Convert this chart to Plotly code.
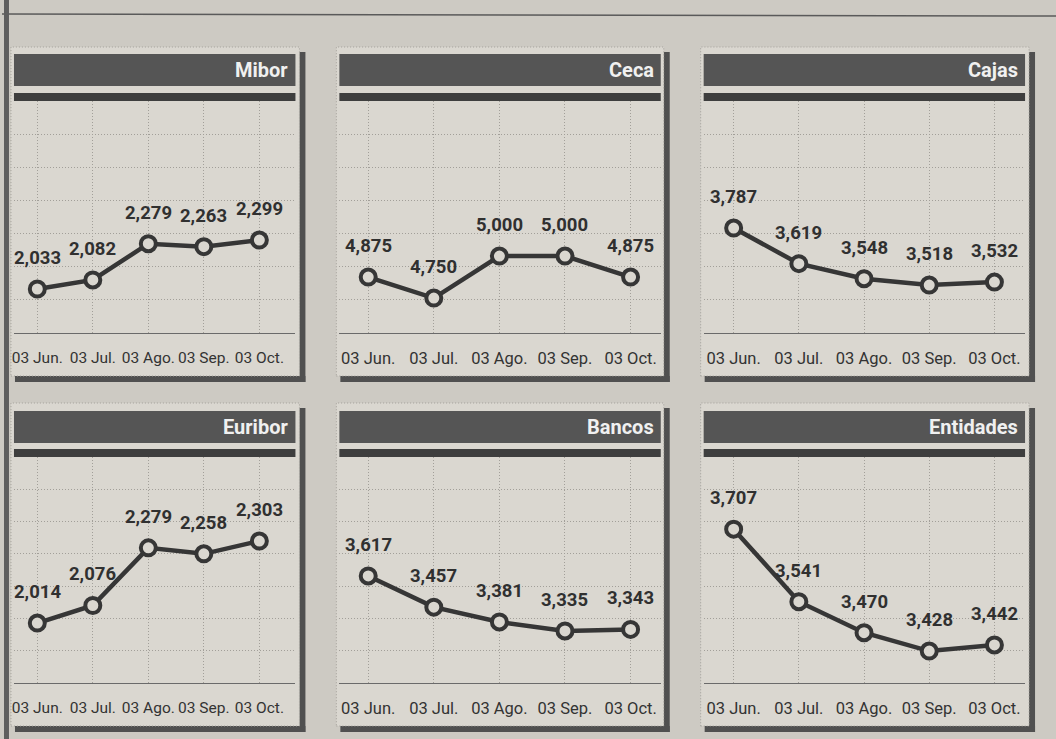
import plotly.graph_objects as go

# ---------------- data ----------------
categories = ["03 Jun.", "03 Jul.", "03 Ago.", "03 Sep.", "03 Oct."]
titles = ["Mibor", "Ceca", "Cajas", "Euribor", "Bancos", "Entidades"]
mibor = [2.033, 2.082, 2.279, 2.263, 2.299]
ceca = [4.875, 4.750, 5.000, 5.000, 4.875]
cajas = [3.787, 3.619, 3.548, 3.518, 3.532]
euribor = [2.014, 2.076, 2.279, 2.258, 2.303]
bancos = [3.617, 3.457, 3.381, 3.335, 3.343]
entidades = [3.707, 3.541, 3.470, 3.428, 3.442]
series = [mibor, ceca, cajas, euribor, bancos, entidades]

# ---------------- layout geometry (pixels) ----------------
W, H = 1056, 739
def fx(x): return x / W
def fy(y): return 1 - y / H

cols = [
    dict(pl=9, pr=298, hl=12, hr=294, xr=[-0.42, 4.65], fs=15.5),
    dict(pl=335, pr=663, hl=338, hr=660, xr=[-0.44, 4.46], fs=16.5),
    dict(pl=700, pr=1029, hl=703, hr=1025, xr=[-0.46, 4.47], fs=16.5),
]
rows = [
    dict(pt=47, ht=54, hb=86, bt=93, bb=101, ab=333, pb=376),
    dict(pt=403, ht=411, hb=443, bt=449, bb=457, ab=683, pb=726),
]
yranges = [[1.794, 3.054], [4.542, 5.923], [3.292, 4.386],
           [1.803, 2.599], [3.068, 4.227], [3.355, 3.872]]

BG = "#cdcac3"
PANEL = "#dad7d0"
DARK = "#363636"
HEADER = "#555555"
GRID = "#a29f99"
FONT = "Roboto, Liberation Sans, sans-serif"

fig = go.Figure()
shapes = []
annotations = []
layout_axes = {}

# page decorations
shapes.append(dict(type="line", xref="paper", yref="paper", x0=0, x1=1,
                   y0=fy(14), y1=fy(16), line=dict(color="#5a5a5a", width=1.5), layer="below"))
shapes.append(dict(type="rect", xref="paper", yref="paper", x0=fx(2), x1=fx(7),
                   y0=0, y1=1, fillcolor="#5e5e5e", line=dict(width=0), layer="below"))

for i in range(6):
    r = rows[i // 3]
    c = cols[i % 3]
    n = i + 1
    xa = "xaxis" if n == 1 else f"xaxis{n}"
    ya = "yaxis" if n == 1 else f"yaxis{n}"
    xref = "x" if n == 1 else f"x{n}"
    yref = "y" if n == 1 else f"y{n}"

    # shadow (right and bottom)
    shapes.append(dict(type="rect", xref="paper", yref="paper",
                       x0=fx(c["pr"]), x1=fx(c["pr"] + 6), y0=fy(r["pb"] + 6), y1=fy(r["pt"] + 5),
                       fillcolor="#505050", line=dict(width=0), layer="below"))
    shapes.append(dict(type="rect", xref="paper", yref="paper",
                       x0=fx(c["pl"] + 4), x1=fx(c["pr"] + 6), y0=fy(r["pb"] + 6), y1=fy(r["pb"]),
                       fillcolor="#505050", line=dict(width=0), layer="below"))
    # panel background
    shapes.append(dict(type="rect", xref="paper", yref="paper",
                       x0=fx(c["pl"]), x1=fx(c["pr"]), y0=fy(r["pb"]), y1=fy(r["pt"]),
                       fillcolor=PANEL, line=dict(color="#a3a09a", width=1, dash="1px,2px"),
                       layer="below"))
    # header bar
    shapes.append(dict(type="rect", xref="paper", yref="paper",
                       x0=fx(c["hl"]), x1=fx(c["hr"]), y0=fy(r["hb"]), y1=fy(r["ht"]),
                       fillcolor=HEADER, line=dict(width=0), layer="below"))
    # thin bar
    shapes.append(dict(type="rect", xref="paper", yref="paper",
                       x0=fx(c["hl"]), x1=fx(c["hr"]), y0=fy(r["bb"]), y1=fy(r["bt"]),
                       fillcolor="#3e3e3e", line=dict(width=0), layer="below"))
    # title
    annotations.append(dict(xref="paper", yref="paper", x=fx(c["hr"] - 5),
                            y=fy((r["ht"] + r["hb"]) / 2), xanchor="right", yanchor="middle",
                            text=f"<b>{titles[i]}</b>", showarrow=False,
                            font=dict(family=FONT, size=20, color="#f0f0f0")))

    lo, hi = yranges[i]
    grid_vals = [lo + k * (hi - lo) / 7 for k in range(1, 7)]
    layout_axes[xa] = dict(
        domain=[fx(c["hl"]), fx(c["hr"])], anchor=yref, range=c["xr"],
        tickmode="array", tickvals=list(range(5)), ticktext=categories,
        showgrid=True, gridcolor=GRID, griddash="1px,2px", gridwidth=1,
        zeroline=False, showline=True, linecolor="#6a6a6a", linewidth=1.2,
        ticks="", ticklabelstandoff=10, tickangle=0,
        tickfont=dict(family=FONT, size=c["fs"], color="#333"),
        fixedrange=True,
    )
    layout_axes[ya] = dict(
        domain=[fy(r["ab"]), fy(r["bb"])], anchor=xref, range=[lo, hi],
        tickmode="array", tickvals=grid_vals, showticklabels=False,
        showgrid=True, gridcolor=GRID, griddash="1px,2px", gridwidth=1,
        zeroline=False, showline=False, ticks="", fixedrange=True,
    )

    vals = series[i]
    fig.add_trace(go.Scatter(
        x=list(range(5)), y=vals, xaxis=xref, yaxis=yref, mode="lines+markers",
        line=dict(color=DARK, width=4.5),
        marker=dict(size=15, color=PANEL, line=dict(color=DARK, width=4)),
        cliponaxis=False, showlegend=False, hoverinfo="skip",
    ))
    for k, v in enumerate(vals):
        annotations.append(dict(xref=xref, yref=yref, x=k, y=v, yshift=31,
                                text=f"<b>{v:.3f}</b>".replace(".", ","),
                                showarrow=False,
                                font=dict(family=FONT, size=18.5, color="#303030")))

fig.update_layout(
    width=W, height=H, margin=dict(l=0, r=0, t=0, b=0),
    paper_bgcolor=BG, plot_bgcolor="rgba(0,0,0,0)",
    shapes=shapes, annotations=annotations, showlegend=False,
    **layout_axes,
)

fig.write_html("out.html", config={"displayModeBar": False},
               post_script="document.body.style.margin='0';document.body.style.overflow='hidden';")
